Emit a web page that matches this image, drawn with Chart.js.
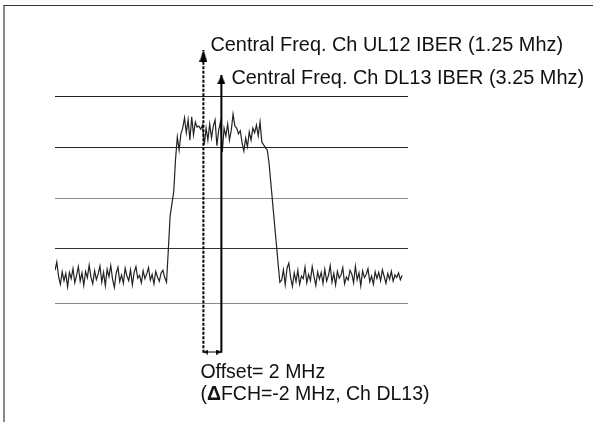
<!DOCTYPE html>
<html><head><meta charset="utf-8">
<script src="https://cdn.jsdelivr.net/npm/chart.js@4.4.1/dist/chart.umd.min.js"></script>
<style>
html,body{margin:0;padding:0;background:#fff;}
#wrap{position:relative;width:593px;height:422px;overflow:hidden;background:#fff;}
#frame{position:absolute;left:3px;top:5px;right:-5px;bottom:-5px;border-top:1px solid #333;border-left:2px solid #8a8a8a;}
canvas{position:absolute;left:0;top:0;}
</style></head><body>
<div id="wrap"><div id="frame"></div><canvas id="c" width="593" height="422"></canvas></div>
<script>
// ---- data (MHz / dB) ----
const traceStartMHz = -15.25;
const traceStepMHz = 0.2;
const leftNoiseDb = [
  -43.6, -42.0, -44.8, -46.3, -43.9, -45.6, -44.2, -46.8, -44.0, -45.2,
  -43.3, -46.0, -44.6, -42.9, -45.7, -44.1, -46.5, -43.8, -45.0, -42.6,
  -44.9, -46.2, -43.7, -45.4, -44.3, -42.8, -45.9, -44.0, -46.6, -43.4,
  -44.8, -42.7, -45.3, -46.9, -44.2, -43.0, -45.8, -44.5, -46.1, -43.2,
  -44.7, -45.6, -43.5, -46.4, -44.0, -42.9, -45.1, -44.6, -46.0, -43.7,
  -45.2, -44.3, -43.1, -45.5, -44.4, -46.2, -43.8, -44.9, -45.7, -44.1,
  -43.6, -45.0, -45.9
];
const riseEdgeDb = [-39.7, -33.1, -30.8, -28.5, -22.3];
const channelTopDb = [
  -17.9, -20.4, -17.3, -16.2, -14.2, -17.1, -14.6, -18.5, -14.0, -17.5,
  -15.0, -16.0, -15.8, -16.4, -15.6, -19.4, -16.2, -18.5, -15.4, -18.1,
  -15.8, -14.6, -19.6, -16.6, -15.0, -20.8, -16.2, -17.7, -15.4, -18.5,
  -16.6, -13.5, -15.8, -16.2, -17.3, -16.7, -19.0, -20.6, -18.1, -19.8,
  -16.9, -18.5, -16.2, -17.1, -15.6, -17.7, -15.0, -18.9, -19.4
];
const fallEdgeDb = [-20.0, -20.4, -22.9, -26.8, -30.6, -34.5, -38.3, -42.2, -45.9];
const rightNoiseDb = [
  -45.5, -43.5, -46.4, -43.2, -42.2, -45.0, -46.7, -44.1, -45.8, -43.6,
  -46.3, -44.7, -45.2, -43.0, -46.0, -44.4, -45.6, -42.9, -44.8, -46.5,
  -43.9, -45.3, -44.0, -46.1, -43.4, -45.7, -44.6, -42.7, -45.9, -44.2,
  -46.4, -43.8, -45.1, -44.5, -43.1, -46.2, -44.9, -45.5, -43.6, -44.3,
  -46.0, -42.8, -45.4, -44.1, -46.6, -43.7, -45.0, -44.4, -43.3, -45.8,
  -44.7, -46.3, -43.9, -45.2, -44.0, -45.6, -43.5, -44.8, -46.1, -44.2,
  -45.3, -43.8, -45.7, -44.5, -45.0, -44.1, -45.4, -44.6
];
const gridLevelsDb = [-10, -20, -29.7, -39.4, -50];
const markerFreqsMHz = [1.25, 3.25];
const markerTipDb = [-1.13, -5.95];
const markerBaseDb = -59.5;
const offsetArrowDb = -59.35;
const markerLabels = ['Central Freq. Ch UL12 IBER (1.25 Mhz)', 'Central Freq. Ch DL13 IBER (3.25 Mhz)'];
const offsetLabels = ['Offset= 2 MHz', '(', '\u0394', 'FCH=-2 MHz, Ch DL13)'];

// ---- build ----
const traceDb = [...leftNoiseDb, ...riseEdgeDb, ...channelTopDb, ...fallEdgeDb, ...rightNoiseDb];
const tracePoints = traceDb.map((v, i) => ({x: traceStartMHz + i * traceStepMHz, y: v}));

function makeArrow(w, h) {
  const c = document.createElement('canvas');
  c.width = w; c.height = 2 * h;
  const g = c.getContext('2d');
  g.fillStyle = '#000';
  g.beginPath();
  g.moveTo(w / 2, h);
  g.lineTo(w, 2 * h);
  g.lineTo(0, 2 * h);
  g.closePath();
  g.fill();
  return c;
}
const arrowUL = makeArrow(8, 12);
const arrowDL = makeArrow(8, 9);
const arrowSmall = makeArrow(5, 5);

const FONT = '"Liberation Sans", Arial, sans-serif';
const labelPlugin = {
  id: 'labels',
  afterDatasetsDraw(chart) {
    const {ctx, scales: {x, y}} = chart;
    ctx.save();
    ctx.fillStyle = '#111';
    ctx.textBaseline = 'alphabetic';
    ctx.font = '19.9px ' + FONT;
    const x0 = x.getPixelForValue(markerFreqsMHz[0]);
    const x1 = x.getPixelForValue(markerFreqsMHz[1]);
    ctx.fillText(markerLabels[0], x0 + 7, y.getPixelForValue(markerTipDb[0]) + 1);
    ctx.fillText(markerLabels[1], x1 + 10, y.getPixelForValue(markerTipDb[1]) + 9);
    ctx.font = '19.5px ' + FONT;
    const oy = y.getPixelForValue(offsetArrowDb);
    ctx.fillText(offsetLabels[0], x0 - 3, oy + 26);
    let cx = x0 - 3;
    ctx.fillText(offsetLabels[1], cx, oy + 48);
    cx += ctx.measureText(offsetLabels[1]).width;
    ctx.font = 'bold 19.5px ' + FONT;
    ctx.fillText(offsetLabels[2], cx, oy + 48);
    cx += ctx.measureText(offsetLabels[2]).width;
    ctx.font = '19.5px ' + FONT;
    ctx.fillText(offsetLabels[3], cx, oy + 48);
    ctx.restore();
  }
};

const gridColors = ['#222', '#222', '#8a8a8a', '#333', '#8a8a8a'];

new Chart(document.getElementById('c'), {
  type: 'line',
  data: {
    datasets: [
      {
        data: [{x: markerFreqsMHz[0], y: markerBaseDb}, {x: markerFreqsMHz[0], y: markerTipDb[0]}],
        borderColor: '#000', borderWidth: 2, borderDash: [3, 1.5],
        pointRadius: c => c.dataIndex === 1 ? 5 : 0,
        pointStyle: c => c.dataIndex === 1 ? arrowUL : 'circle'
      },
      {
        data: [{x: markerFreqsMHz[1], y: markerBaseDb}, {x: markerFreqsMHz[1], y: markerTipDb[1]}],
        borderColor: '#000', borderWidth: 2,
        pointRadius: c => c.dataIndex === 1 ? 5 : 0,
        pointStyle: c => c.dataIndex === 1 ? arrowDL : 'circle'
      },
      {
        data: [{x: markerFreqsMHz[0], y: offsetArrowDb}, {x: markerFreqsMHz[1], y: offsetArrowDb}],
        borderColor: '#000', borderWidth: 1,
        pointRadius: 4,
        pointStyle: arrowSmall,
        pointRotation: c => c.dataIndex === 0 ? -90 : 90
      },
      {
        data: tracePoints,
        borderColor: '#222', borderWidth: 1.2,
        pointRadius: 0, tension: 0
      }
    ]
  },
  options: {
    responsive: false,
    devicePixelRatio: 1,
    animation: false,
    events: [],
    layout: {padding: {left: 55, right: 185, top: 33.75, bottom: 56.25}},
    plugins: {legend: {display: false}, tooltip: {enabled: false}},
    scales: {
      x: {type: 'linear', min: -15.25, max: 24, display: false},
      y: {
        type: 'linear', min: -62, max: 2,
        afterBuildTicks: s => { s.ticks = gridLevelsDb.map(v => ({value: v})); },
        ticks: {display: false},
        border: {display: false},
        grid: {drawTicks: false, color: c => gridColors[c.index] || '#333', lineWidth: 1}
      }
    }
  },
  plugins: [labelPlugin]
});
</script>
</body></html>
